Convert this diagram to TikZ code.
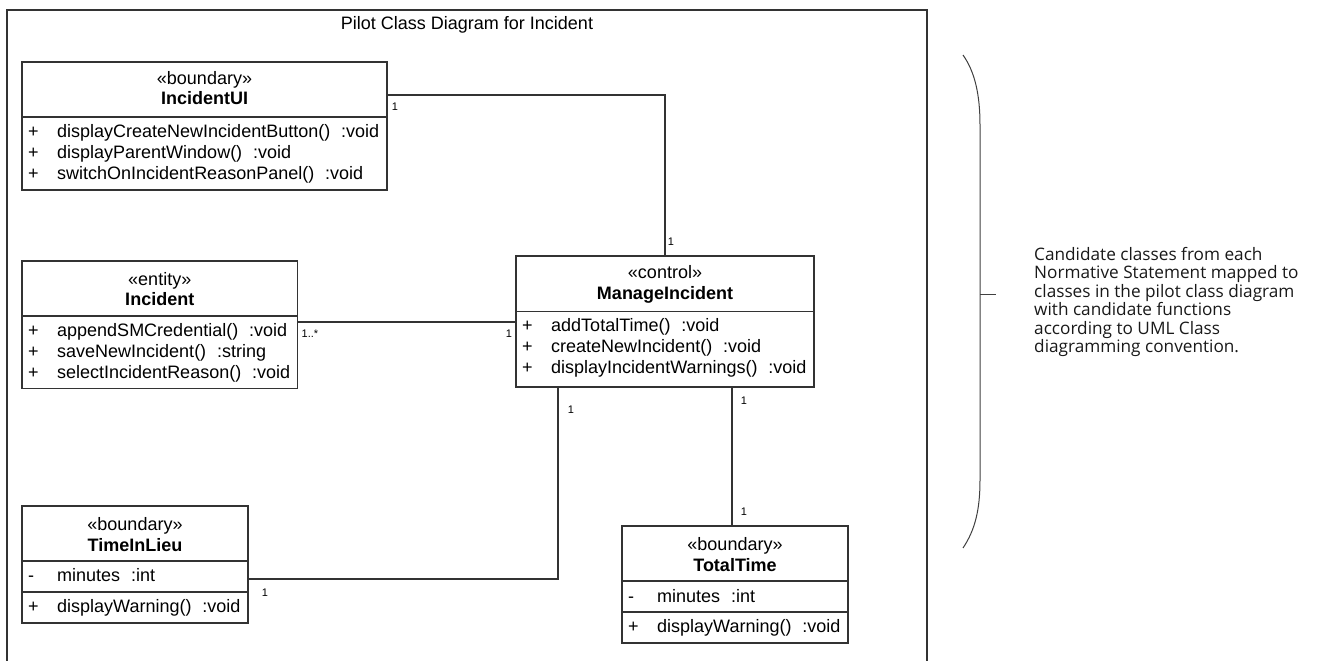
\documentclass[tikz,border=0pt]{standalone}
\usepackage{fontspec}
\setmainfont{Liberation Sans}
\newfontfamily\notefont{Open Sans}
\newcommand\opgap{\hspace{0.6em}}

\begin{document}
\begin{tikzpicture}[x=1pt,y=-1pt,
  line/.style={draw=black!80, line width=1.1pt},
  classbox/.style={draw=black!80, line width=1.1pt, fill=white, inner sep=0pt, outer sep=0pt},
  txt/.style={font=\fontsize{18}{21}\selectfont, inner sep=0pt, text height=13pt, text depth=4pt},
  nametxt/.style={txt, font=\fontsize{18}{21}\selectfont\bfseries},
  op/.style={txt, anchor=west},
  mult/.style={font=\fontsize{11}{13}\selectfont, inner sep=0pt},
  note/.style={font=\notefont\fontsize{17.2}{18.4}\selectfont, align=left, inner sep=0pt, text=black!90}
]
\useasboundingbox (0,0) rectangle (1317,661);

% diagram frame (open at the bottom) and its title
\draw[line] (7,664) -- (7,10) -- (927,10) -- (927,664);
\node[txt] (title) at (467,25) {Pilot Class Diagram for Incident};

% ---- IncidentUI ----
\node[classbox, minimum width=365pt, minimum height=128pt] (iui) at (204.5,126) {};
\draw[line] (iui.west |- 0,117) -- (iui.east |- 0,117);
\node[txt] (iuiS) at (204.5,80) {«boundary»};
\node[nametxt] (iuiN) at (204.5,100) {IncidentUI};
\node[op] (iuiP1) at (28,133) {+};
\node[op] (iuiP2) at (28,154) {+};
\node[op] (iuiP3) at (28,175) {+};
\node[op] (iuiO1) at (57,133) {displayCreateNewIncidentButton()\opgap:void};
\node[op] (iuiO2) at (57,154) {displayParentWindow()\opgap:void};
\node[op] (iuiO3) at (57,175) {switchOnIncidentReasonPanel()\opgap:void};

% ---- Incident ----
\node[classbox, minimum width=275.5pt, minimum height=127.5pt] (inc) at (159.75,324.75) {};
\draw[line] (inc.west |- 0,316) -- (inc.east |- 0,316);
\node[txt] (incS) at (159.75,281) {«entity»};
\node[nametxt] (incN) at (159.75,301) {Incident};
\node[op] (incP1) at (28,332) {+};
\node[op] (incP2) at (28,353) {+};
\node[op] (incP3) at (28,374) {+};
\node[op] (incO1) at (57,332) {appendSMCredential()\opgap:void};
\node[op] (incO2) at (57,353) {saveNewIncident()\opgap:string};
\node[op] (incO3) at (57,374) {selectIncidentReason()\opgap:void};

% ---- ManageIncident ----
\node[classbox, minimum width=298pt, minimum height=131pt] (mi) at (665,321.5) {};
\draw[line] (mi.west |- 0,311.5) -- (mi.east |- 0,311.5);
\node[txt] (miS) at (665,274) {«control»};
\node[nametxt] (miN) at (665,295) {ManageIncident};
\node[op] (miP1) at (522,327) {+};
\node[op] (miP2) at (522,348) {+};
\node[op] (miP3) at (522,369) {+};
\node[op] (miO1) at (551,327) {addTotalTime()\opgap:void};
\node[op] (miO2) at (551,348) {createNewIncident()\opgap:void};
\node[op] (miO3) at (551,369) {displayIncidentWarnings()\opgap:void};

% ---- TimeInLieu ----
\node[classbox, minimum width=226pt, minimum height=117pt] (til) at (135,564.5) {};
\draw[line] (til.west |- 0,561) -- (til.east |- 0,561);
\draw[line] (til.west |- 0,592) -- (til.east |- 0,592);
\node[txt] (tilS) at (135,526) {«boundary»};
\node[nametxt] (tilN) at (135,547) {TimeInLieu};
\node[op] (tilP1) at (28,577) {-};
\node[op] (tilP2) at (28,608) {+};
\node[op] (tilA1) at (57,577) {minutes\opgap:int};
\node[op] (tilO1) at (57,608) {displayWarning()\opgap:void};

% ---- TotalTime ----
\node[classbox, minimum width=226pt, minimum height=117pt] (tt) at (735,584.5) {};
\draw[line] (tt.west |- 0,581) -- (tt.east |- 0,581);
\draw[line] (tt.west |- 0,612) -- (tt.east |- 0,612);
\node[txt] (ttS) at (735,546) {«boundary»};
\node[nametxt] (ttN) at (735,567) {TotalTime};
\node[op] (ttP1) at (628,598) {-};
\node[op] (ttP2) at (628,628) {+};
\node[op] (ttA1) at (657,598) {minutes\opgap:int};
\node[op] (ttO1) at (657,628) {displayWarning()\opgap:void};

% ---- associations ----
\draw[line] (iui.east |- 0,95) -| (mi.north);
\draw[line] (inc.east |- 0,322) -- (mi.west |- 0,322);
\draw[line] (mi.south -| 558,0) |- (til.east |- 0,579);
\draw[line] (mi.south -| 732,0) -- (tt.north -| 732,0);

% multiplicities
\node[mult] (m1) at (395,107) {1};
\node[mult] (m2) at (671,242) {1};
\node[mult] (m3) at (310,334) {1..*};
\node[mult] (m4) at (509,334) {1};
\node[mult] (m5) at (571,410) {1};
\node[mult] (m6) at (265,593) {1};
\node[mult] (m7) at (744,401) {1};
\node[mult] (m8) at (744,512) {1};

% ---- brace with explanatory note ----
\draw[draw=black!75, line width=1pt]
  (963,55) .. controls (975,72) and (980,95) .. (980,125)
  -- (980,480) .. controls (980,510) and (975,530) .. (963,548);
\coordinate (tip) at (980,294);
\node[note, anchor=west] (expl) at (1034,302)
  {Candidate classes from each\\Normative Statement mapped to\\classes in the pilot class diagram\\with candidate functions\\according to UML Class\\diagramming convention.};
\draw[draw=black!75, line width=1pt] (tip) -- ++(16,0);
\end{tikzpicture}
\end{document}
